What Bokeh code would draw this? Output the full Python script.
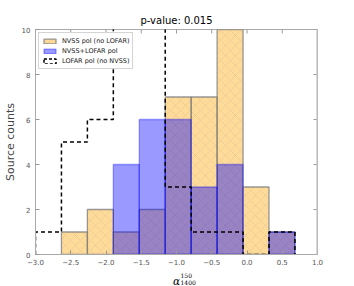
import math
from bokeh.plotting import figure
from bokeh.layouts import column
from bokeh.models import (Range1d, Legend, LegendItem, FixedTicker, ColumnDataSource, Span)
from bokeh.core.properties import value
from bokeh.embed import file_html
from bokeh.resources import INLINE

# ---- data ----
bin_edges = [-3.0, -2.632, -2.264, -1.896, -1.528, -1.16, -0.792, -0.424, -0.056, 0.312, 0.68]
nvss_only_counts = [0, 1, 2, 1, 2, 7, 7, 10, 3, 1]      # NVSS pol (no LOFAR)
nvss_lofar_counts = [0, 0, 0, 4, 6, 6, 3, 4, 0, 1]      # NVSS+LOFAR pol
lofar_only_counts = [1, 5, 6, 11, 11, 3, 1, 1, 0, 1]    # LOFAR pol (no NVSS)
x_ticks = [-3.0, -2.5, -2.0, -1.5, -1.0, -0.5, 0.0, 0.5, 1.0]
x_tick_labels = ["\u22123.0", "\u22122.5", "\u22122.0", "\u22121.5", "\u22121.0",
                 "\u22120.5", "0.0", "0.5", "1.0"]
y_ticks = [0, 2, 4, 6, 8, 10]
x_lim = (-3.0, 1.0)
y_lim = (0, 10)
title_text = "p-value: 0.015"
y_label_text = "Source counts"
x_label_main, x_label_sup, x_label_sub = "\u03b1", "150", "1400"
series_names = ["NVSS pol (no LOFAR)", "NVSS+LOFAR pol", "LOFAR pol (no NVSS)"]

FONT = "DejaVu Sans"
TICK_COLOR = "#999999"
LABEL_COLOR = "#555555"
BORDER_L, BORDER_R = 30, 37
W = 354

p = figure(width=W, height=267, output_backend="svg", toolbar_location=None,
           x_range=Range1d(*x_lim), y_range=Range1d(*y_lim),
           min_border_left=BORDER_L, min_border_right=BORDER_R, min_border_top=29,
           min_border_bottom=13)
p.outline_line_color = "#aaaaaa"
p.grid.visible = False
p.background_fill_color = "white"
p.border_fill_color = "white"

p.title.text = title_text
p.title.align = "center"
p.title.text_font = FONT
p.title.text_font_size = "10px"
p.title.text_font_style = "normal"
p.title.text_color = "black"
p.title.standoff = 7


def bars(counts):
    left, right, top = [], [], []
    for i, c in enumerate(counts):
        if c > 0:
            left.append(bin_edges[i])
            right.append(bin_edges[i + 1])
            top.append(c)
    return ColumnDataSource(dict(left=left, right=right, top=top, bottom=[0] * len(top)))


r_orange = p.quad(left="left", right="right", top="top", bottom="bottom",
                  source=bars(nvss_only_counts),
                  fill_color="orange", fill_alpha=0.4,
                  line_color="gray", line_alpha=0.8, line_width=1.3,
                  hatch_pattern="x", hatch_color="gray", hatch_alpha=0.17,
                  hatch_scale=10, hatch_weight=0.8)

r_blue = p.quad(left="left", right="right", top="top", bottom="bottom",
                source=bars(nvss_lofar_counts),
                fill_color="blue", fill_alpha=0.4,
                line_color="blue", line_alpha=0.35, line_width=1.3)

# step outline for the LOFAR-only histogram
sx, sy = [bin_edges[0]], [0]
for i, c in enumerate(lofar_only_counts):
    sx += [bin_edges[i], bin_edges[i + 1]]
    sy += [c, c]
sx.append(bin_edges[-1])
sy.append(0)
p.line(sx, sy, line_color="black", line_width=1.5, line_dash="4 3")

# legend proxy for the dashed step histogram (not drawn in the plot)
nan = float("nan")
r_lofar_proxy = p.quad(left=[nan], right=[nan], top=[nan], bottom=[nan],
                       fill_alpha=0, line_color="black", line_width=1.5,
                       line_dash="3 2")

# ---- axes ----
for ax in (p.xaxis[0], p.yaxis[0]):
    ax.major_tick_in = 4
    ax.major_tick_out = 0
    ax.minor_tick_line_color = None
    ax.major_tick_line_color = TICK_COLOR
    ax.axis_line_color = "#aaaaaa"
    ax.major_label_text_font = FONT
    ax.major_label_text_font_size = "7px"
    ax.major_label_text_color = LABEL_COLOR

p.xaxis.ticker = FixedTicker(ticks=x_ticks)
p.xaxis.major_label_overrides = dict(zip(x_ticks, x_tick_labels))
p.xaxis.major_label_standoff = 4
p.yaxis.ticker = FixedTicker(ticks=y_ticks)
p.yaxis.major_label_standoff = 5
p.yaxis.axis_label = y_label_text
p.yaxis.axis_label_text_font = FONT
p.yaxis.axis_label_text_font_size = "11px"
p.yaxis.axis_label_text_font_style = "normal"
p.yaxis.axis_label_text_color = "#444444"
p.yaxis.axis_label_standoff = 2

# inward ticks on the top and right edges, plus the light right spine
p.ray(x=x_ticks, y=[y_lim[1]] * len(x_ticks), length=4, length_units="screen",
      angle=-math.pi / 2, line_color=TICK_COLOR, line_width=1)
p.ray(x=[x_lim[1]] * len(y_ticks), y=y_ticks, length=4, length_units="screen",
      angle=math.pi, line_color=TICK_COLOR, line_width=1)
p.add_layout(Span(location=x_lim[1], dimension="height", line_color="#cccccc",
                  line_width=2.5))

# ---- legend ----
legend = Legend(items=[LegendItem(label=series_names[0], renderers=[r_orange]),
                       LegendItem(label=series_names[1], renderers=[r_blue]),
                       LegendItem(label=series_names[2], renderers=[r_lofar_proxy])],
                location="top_left", margin=3, padding=3, spacing=1,
                label_height=9, glyph_height=6, glyph_width=15, label_standoff=5,
                label_text_font=FONT, label_text_font_size="6.5px",
                label_text_color="#222222",
                border_line_color="#aaaaaa", border_line_width=1,
                background_fill_alpha=1.0)
p.add_layout(legend, "center")

# ---- x-axis label strip (alpha with super/subscript) ----
q = figure(width=W, height=18, output_backend="svg", toolbar_location=None,
           title=None, x_range=p.x_range, y_range=Range1d(0, 1),
           x_axis_type=None, y_axis_type=None,
           min_border_left=BORDER_L, min_border_right=BORDER_R,
           min_border_top=0, min_border_bottom=0)
q.grid.visible = False
q.outline_line_color = None
x_mid = (x_lim[0] + x_lim[1]) / 2
# anchored at the vertical middle of the strip; positive offsets move down
q.text(x=[x_mid], y=[0.5], text=[x_label_main], y_offset=4, x_offset=0,
       text_align="center", text_baseline="alphabetic",
       text_font=value("DejaVu Serif"), text_font_style="italic",
       text_font_size="10.5px", text_color="black")
q.text(x=[x_mid], y=[0.5], text=[x_label_sup], y_offset=-1.5, x_offset=4,
       text_align="left", text_baseline="alphabetic",
       text_font=value("DejaVu Serif"), text_font_size="6px", text_color="black")
q.text(x=[x_mid], y=[0.5], text=[x_label_sub], y_offset=6, x_offset=4,
       text_align="left", text_baseline="alphabetic",
       text_font=value("DejaVu Serif"), text_font_size="6px", text_color="black")

layout = column(p, q, spacing=0)
open("out.html", "w").write(file_html(layout, INLINE))
